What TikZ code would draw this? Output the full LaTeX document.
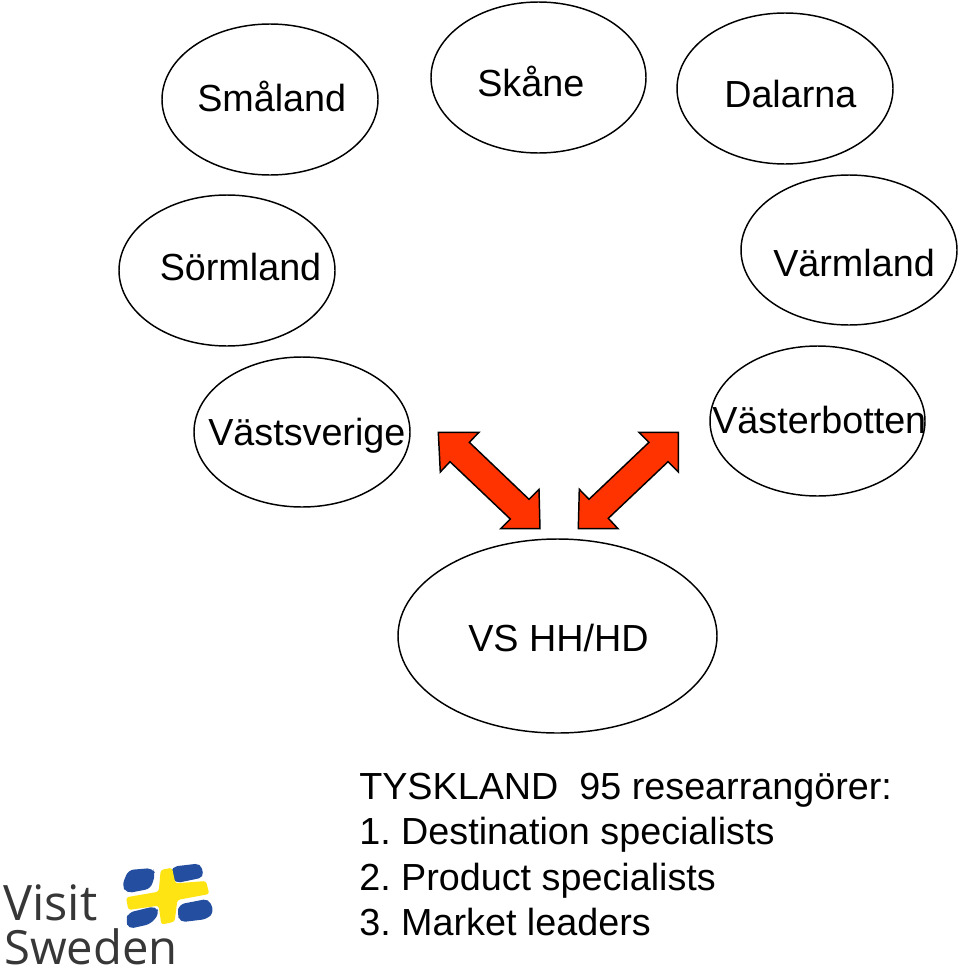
\documentclass[tikz,border=0pt]{standalone}
\usepackage{fontspec}
\setmainfont{Liberation Sans}
\newfontfamily\logofont{Open Sans}
\usetikzlibrary{shapes.geometric}
\definecolor{arrowred}{RGB}{255,51,0}
\definecolor{flagblue}{RGB}{36,78,160}
\definecolor{flagyellow}{RGB}{255,228,20}
\definecolor{logotext}{RGB}{55,55,55}
\frenchspacing
\tikzset{
  region/.style={ellipse,draw=black,line width=1.1pt,fill=white,inner sep=0pt,outer sep=0pt},
  label/.style={font=\fontsize{28.3}{28.3}\selectfont,inner sep=0pt,anchor=base west},
  listline/.style={font=\fontsize{28.3}{28.3}\selectfont,inner sep=0pt,anchor=base west},
  bigarrow/.style={draw=black,line width=1.1pt,fill=arrowred,line join=miter},
  logoword/.style={font=\logofont\fontsize{35.4}{35.4}\selectfont,text=logotext,inner sep=0pt,anchor=base west},
  logowordlarge/.style={logoword,font=\logofont\fontsize{36.6}{36.6}\selectfont}
}
\begin{document}
\begin{tikzpicture}[x=0.75pt,y=-0.75pt]
\useasboundingbox (0,0) rectangle (960,971);
\node[region,minimum width=162pt,minimum height=113.25pt] (smaland) at (270,99.5) {};
\node[region,minimum width=161.25pt,minimum height=113.25pt] (skane) at (538.5,77.5) {};
\node[region,minimum width=162pt,minimum height=113.25pt] (dalarna) at (785,88.5) {};
\node[region,minimum width=162pt,minimum height=113.25pt] (sormland) at (227,270.5) {};
\node[region,minimum width=162pt,minimum height=112.5pt] (varmland) at (849,250) {};
\node[region,minimum width=162pt,minimum height=112.5pt] (vastsverige) at (302,432) {};
\node[region,minimum width=161.25pt,minimum height=112.5pt] (vasterbotten) at (817.5,421) {};
\node[region,minimum width=239.25pt,minimum height=145.5pt] (vs) at (557.5,636) {};

\node[label] (t1) at (197,111) {Småland};
\node[label] (t2) at (477,96) {Skåne};
\node[label] (t3) at (724,107) {Dalarna};
\node[label] (t4) at (159.5,280) {Sörmland};
\node[label] (t5) at (773,276) {Värmland};
\node[label] (t6) at (208,445) {Västsverige};
\node[label] (t7) at (712,433) {Västerbotten};
\node[label] (t8) at (468,651) {VS HH/HD};

\draw[bigarrow] (438.3,432.3) -- (479,432.3) -- (469.3,442.3) -- (529,499.3) -- (539,489.3) -- (540,528.7) -- (500.7,528.7) -- (510.3,519) -- (450,461.7) -- (440.3,472) -- cycle;
\draw[bigarrow] (678.3,432.3) -- (639,432.3) -- (649,442.3) -- (589,499.3) -- (579.3,489.3) -- (578.3,528.7) -- (618,528.7) -- (608.3,518.3) -- (668,461.7) -- (678.3,472) -- cycle;

\node[listline] (l0) at (359,799) {TYSKLAND\ \ 95 researrangörer:};
\node[listline] (l1) at (359,844) {1. Destination specialists};
\node[listline] (l2) at (359,890) {2. Product specialists};
\node[listline] (l3) at (359,935) {3. Market leaders};

\node[logowordlarge] (visit) at (3,920) {Visit};
\node[logoword] (sweden) at (4,964) {Sweden};

\begin{scope}[shift={(0,850)},x=0.25pt,y=-0.25pt]
  \fill[flagblue,rounded corners=4pt] (385,60) -- (458,54) -- (466,72) -- (452,116) -- (380,130) -- (366,106) -- cycle;
  \fill[flagblue,rounded corners=4pt] (516,50) -- (602,40) -- (612,82) -- (525,100) -- (512,72) -- cycle;
  \fill[flagblue,rounded corners=4pt] (385,188) -- (467,168) -- (478,190) -- (452,222) -- (385,237) -- (378,210) -- cycle;
  \fill[flagblue,rounded corners=4pt] (538,163) -- (626,146) -- (642,185) -- (622,207) -- (540,217) -- (532,190) -- cycle;
  \fill[flagyellow,rounded corners=2pt] (482,60) -- (516,53) -- (526,100) -- (618,93) -- (628,132) -- (532,150) -- (524,215) -- (484,224) -- (476,167) -- (385,180) -- (378,142) -- (476,125) -- cycle;
\end{scope}
\end{tikzpicture}
\end{document}
